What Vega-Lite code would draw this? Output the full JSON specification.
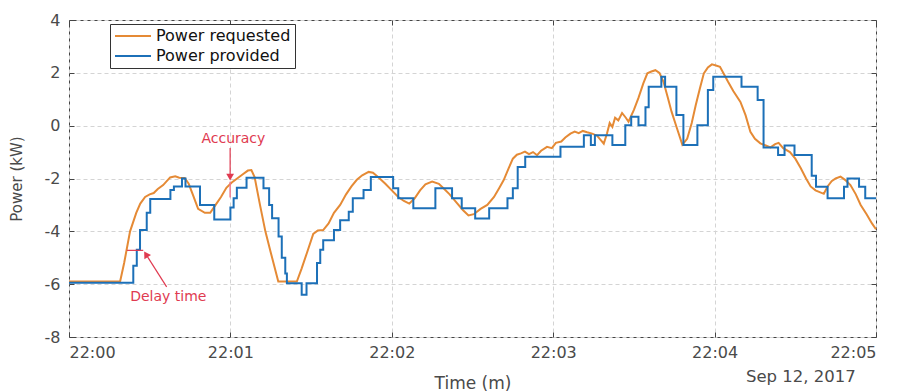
{
  "$schema": "https://vega.github.io/schema/vega-lite/v6.json",
  "width": 807,
  "height": 317,
  "autosize": {"type": "none"},
  "padding": {"left": 69, "top": 20, "right": 25, "bottom": 55},
  "background": "white",
  "config": {
    "font": "DejaVu Sans",
    "view": {"stroke": "#454545", "strokeWidth": 1},
    "axis": {
      "labelFont": "DejaVu Sans", "labelFontSize": 16, "labelColor": "#4a4a4a",
      "titleFont": "DejaVu Sans", "titleFontWeight": "normal", "titleColor": "#4a4a4a",
      "domain": false, "tickColor": "#454545", "gridColor": "#d4d4d4", "gridDash": [4, 3], "gridWidth": 1
    }
  },
  "datasets": {
    "requested": [
      {"t":0,"kw":-5.9},{"t":19,"kw":-5.9},{"t":20.5,"kw":-5.2},{"t":22.7,"kw":-4.0},{"t":25,"kw":-3.3},{"t":26.5,"kw":-2.95},{"t":28.3,"kw":-2.7},{"t":30,"kw":-2.6},{"t":31.5,"kw":-2.55},{"t":33,"kw":-2.4},{"t":35,"kw":-2.25},{"t":37.6,"kw":-1.96},{"t":39.5,"kw":-1.92},{"t":41,"kw":-1.97},{"t":43,"kw":-1.98},{"t":44.5,"kw":-2.2},{"t":46,"kw":-2.6},{"t":48,"kw":-3.15},{"t":50.5,"kw":-3.3},{"t":52.5,"kw":-3.3},{"t":54.5,"kw":-3.0},{"t":56.5,"kw":-2.7},{"t":58.5,"kw":-2.35},{"t":60.5,"kw":-2.15},{"t":62.5,"kw":-2.0},{"t":64.5,"kw":-1.85},{"t":66.5,"kw":-1.7},{"t":67.8,"kw":-1.68},{"t":69,"kw":-1.95},{"t":71,"kw":-3.0},{"t":73,"kw":-4.0},{"t":75,"kw":-4.8},{"t":77.8,"kw":-5.9},{"t":84.7,"kw":-5.9},{"t":86.5,"kw":-5.4},{"t":88.5,"kw":-4.8},{"t":90.8,"kw":-4.1},{"t":92.5,"kw":-3.97},{"t":94.5,"kw":-3.95},{"t":96.5,"kw":-3.7},{"t":98.5,"kw":-3.3},{"t":100.8,"kw":-3.0},{"t":103,"kw":-2.6},{"t":105,"kw":-2.3},{"t":107,"kw":-2.05},{"t":109,"kw":-1.88},{"t":111.4,"kw":-1.75},{"t":113,"kw":-1.78},{"t":115,"kw":-1.95},{"t":117.6,"kw":-2.2},{"t":120,"kw":-2.45},{"t":122.4,"kw":-2.7},{"t":124.5,"kw":-2.85},{"t":126.5,"kw":-2.95},{"t":128.5,"kw":-2.75},{"t":130.5,"kw":-2.45},{"t":132.5,"kw":-2.22},{"t":135,"kw":-2.12},{"t":137.5,"kw":-2.2},{"t":139.5,"kw":-2.4},{"t":141.5,"kw":-2.6},{"t":144,"kw":-2.9},{"t":146.5,"kw":-3.2},{"t":148.5,"kw":-3.4},{"t":150.5,"kw":-3.35},{"t":153,"kw":-3.15},{"t":155.5,"kw":-3.0},{"t":158,"kw":-2.7},{"t":160,"kw":-2.35},{"t":161.6,"kw":-2.06},{"t":163.5,"kw":-1.6},{"t":165,"kw":-1.25},{"t":166.5,"kw":-1.1},{"t":168,"kw":-1.05},{"t":169.5,"kw":-0.98},{"t":171,"kw":-1.08},{"t":172.5,"kw":-1.0},{"t":174,"kw":-1.12},{"t":175.5,"kw":-0.95},{"t":177.7,"kw":-0.8},{"t":179.5,"kw":-0.85},{"t":181,"kw":-0.65},{"t":183,"kw":-0.6},{"t":184.5,"kw":-0.45},{"t":186.4,"kw":-0.3},{"t":188,"kw":-0.22},{"t":189.5,"kw":-0.28},{"t":191,"kw":-0.2},{"t":192.6,"kw":-0.25},{"t":194.5,"kw":-0.3},{"t":196.3,"kw":-0.38},{"t":197.7,"kw":-0.55},{"t":198.8,"kw":-0.68},{"t":200,"kw":-0.3},{"t":201,"kw":0.1},{"t":202,"kw":-0.05},{"t":203,"kw":0.3},{"t":204.2,"kw":0.2},{"t":205.6,"kw":0.48},{"t":207,"kw":0.3},{"t":208,"kw":0.15},{"t":210,"kw":0.6},{"t":211.7,"kw":1.05},{"t":213.5,"kw":1.6},{"t":215,"kw":1.98},{"t":216.5,"kw":2.05},{"t":218,"kw":2.1},{"t":219.5,"kw":2.0},{"t":221,"kw":1.66},{"t":222.5,"kw":1.1},{"t":224,"kw":0.53},{"t":226,"kw":-0.1},{"t":228,"kw":-0.72},{"t":229.8,"kw":-0.5},{"t":231.5,"kw":0.1},{"t":233,"kw":0.78},{"t":234.5,"kw":1.4},{"t":236,"kw":1.98},{"t":237.5,"kw":2.2},{"t":239,"kw":2.32},{"t":240.5,"kw":2.28},{"t":242,"kw":2.23},{"t":243.5,"kw":1.95},{"t":245,"kw":1.66},{"t":247,"kw":1.3},{"t":249.6,"kw":0.9},{"t":251.5,"kw":0.4},{"t":253.3,"kw":-0.23},{"t":255,"kw":-0.5},{"t":257,"kw":-0.67},{"t":259,"kw":-0.75},{"t":260.8,"kw":-0.82},{"t":262.5,"kw":-0.7},{"t":263.8,"kw":-0.65},{"t":265.5,"kw":-0.85},{"t":268,"kw":-1.0},{"t":270,"kw":-1.25},{"t":272,"kw":-1.6},{"t":274,"kw":-2.0},{"t":275.7,"kw":-2.3},{"t":277.5,"kw":-2.45},{"t":280.6,"kw":-2.58},{"t":282,"kw":-2.3},{"t":283.5,"kw":-2.1},{"t":285,"kw":-2.0},{"t":286.8,"kw":-1.93},{"t":288.5,"kw":-2.05},{"t":290.5,"kw":-2.25},{"t":292.5,"kw":-2.6},{"t":294.3,"kw":-3.0},{"t":296.5,"kw":-3.35},{"t":298.5,"kw":-3.7},{"t":300,"kw":-3.92}
    ],
    "provided": [
      {"t":0,"kw":-5.95},{"t":23.9,"kw":-5.3},{"t":25.2,"kw":-4.7},{"t":26.4,"kw":-3.95},{"t":28.9,"kw":-3.3},{"t":30.2,"kw":-2.78},{"t":37.7,"kw":-2.44},{"t":39,"kw":-2.3},{"t":42,"kw":-2.0},{"t":43.3,"kw":-2.3},{"t":48.7,"kw":-3.0},{"t":54,"kw":-3.55},{"t":60,"kw":-3.1},{"t":61.2,"kw":-2.75},{"t":62.4,"kw":-2.35},{"t":66,"kw":-1.97},{"t":72.3,"kw":-2.37},{"t":74.4,"kw":-3.0},{"t":75.5,"kw":-3.5},{"t":77.9,"kw":-4.2},{"t":79.1,"kw":-5.0},{"t":80.4,"kw":-5.6},{"t":81,"kw":-5.97},{"t":86.5,"kw":-6.4},{"t":88.3,"kw":-5.97},{"t":92.2,"kw":-5.2},{"t":93.4,"kw":-4.7},{"t":94.5,"kw":-4.34},{"t":98.5,"kw":-3.95},{"t":100.8,"kw":-3.58},{"t":104,"kw":-3.26},{"t":105.5,"kw":-2.75},{"t":109.5,"kw":-2.44},{"t":112.2,"kw":-1.94},{"t":120.5,"kw":-2.37},{"t":122.4,"kw":-2.75},{"t":128,"kw":-3.13},{"t":136.2,"kw":-2.37},{"t":142.4,"kw":-2.75},{"t":146,"kw":-3.13},{"t":151,"kw":-3.51},{"t":156.2,"kw":-3.13},{"t":163,"kw":-2.75},{"t":165,"kw":-2.37},{"t":166.8,"kw":-1.56},{"t":169.6,"kw":-1.18},{"t":182.7,"kw":-0.8},{"t":191.4,"kw":-0.36},{"t":194,"kw":-0.73},{"t":195.5,"kw":-0.36},{"t":202,"kw":-0.73},{"t":206.8,"kw":0.02},{"t":209,"kw":0.34},{"t":211.7,"kw":0.02},{"t":214.3,"kw":0.7},{"t":215.5,"kw":1.47},{"t":220.2,"kw":1.85},{"t":221.6,"kw":1.47},{"t":225.8,"kw":0.4},{"t":228.4,"kw":-0.73},{"t":233.6,"kw":0.02},{"t":237.5,"kw":1.35},{"t":239.5,"kw":1.85},{"t":250,"kw":1.47},{"t":256,"kw":0.97},{"t":258.2,"kw":-0.83},{"t":263.6,"kw":-1.11},{"t":266,"kw":-0.75},{"t":269.7,"kw":-1.11},{"t":276.1,"kw":-1.9},{"t":277.7,"kw":-2.31},{"t":282,"kw":-2.75},{"t":288.1,"kw":-2.31},{"t":289.4,"kw":-2.0},{"t":293.7,"kw":-2.31},{"t":296,"kw":-2.75},{"t":300,"kw":-2.75}
    ],
    "arrows": [
      {"t":59.9,"v":-0.85,"t2":59.9,"v2":-1.9},
      {"t":36.3,"v":-6.1,"t2":28.8,"v2":-4.9},
      {"t":21.5,"v":-4.72,"t2":27.6,"v2":-4.72}
    ],
    "gap": [{"t":59.9,"v":-2.12,"t2":59.9,"v2":-2.72}],
    "headAcc": [{"t":59.9,"v":-1.95}],
    "headDelay": [{"t":28.6,"v":-4.87}],
    "notes": [
      {"t":61.1,"v":-0.64,"text":"Accuracy"},
      {"t":36.9,"v":-6.63,"text":"Delay time"}
    ],
    "date": [{"t":292.5,"v":-9.71,"text":"Sep 12, 2017"}]
  },
  "layer": [
    {
      "data": {"name": "requested"},
      "mark": {"type": "line", "strokeWidth": 2, "interpolate": "linear"},
      "encoding": {
        "x": {"field": "t", "type": "quantitative", "scale": {"domain": [0, 300], "nice": false, "zero": false},
          "axis": {"orient": "bottom", "values": [0, 60, 120, 180, 240, 300], "labelExpr": "'22:0' + (datum.value/60)", "title": "Time (m)", "titleFontSize": 17, "titlePadding": 15, "tickSize": -5, "labelPadding": 12, "grid": true}},
        "y": {"field": "kw", "type": "quantitative", "scale": {"domain": [-8, 4], "nice": false, "zero": false},
          "axis": {"orient": "left", "values": [-8, -6, -4, -2, 0, 2, 4], "labelExpr": "datum.value + ''", "title": "Power (kW)", "titleFontSize": 15, "titlePadding": 20, "tickSize": -5, "labelPadding": 14, "grid": true}},
        "color": {"datum": "Power requested", "type": "nominal",
          "scale": {"domain": ["Power requested", "Power provided"], "range": ["#e58a35", "#1c70b8"]},
          "legend": {"title": null, "orient": "none", "legendX": 41, "legendY": 4, "direction": "vertical", "symbolType": "stroke", "symbolSize": 1296, "symbolStrokeWidth": 2, "clipHeight": 16, "labelFont": "DejaVu Sans", "labelFontSize": 16, "labelColor": "#111111", "strokeColor": "#333333", "fillColor": "white", "padding": 4, "rowPadding": 4, "labelOffset": 4}}
      }
    },
    {
      "data": {"name": "provided"},
      "mark": {"type": "line", "strokeWidth": 2, "interpolate": "step-after"},
      "encoding": {
        "x": {"field": "t", "type": "quantitative", "axis": null},
        "y": {"field": "kw", "type": "quantitative", "axis": null},
        "color": {"datum": "Power provided", "type": "nominal"}
      }
    },
    {
      "data": {"name": "arrows"},
      "mark": {"type": "rule", "color": "#e03a50", "strokeWidth": 1.2},
      "encoding": {
        "x": {"field": "t", "type": "quantitative", "axis": null},
        "x2": {"field": "t2"},
        "y": {"field": "v", "type": "quantitative", "axis": null},
        "y2": {"field": "v2"}
      }
    },
    {
      "data": {"name": "gap"},
      "mark": {"type": "rule", "color": "#f07a8c", "strokeWidth": 1.5},
      "encoding": {
        "x": {"field": "t", "type": "quantitative", "axis": null},
        "x2": {"field": "t2"},
        "y": {"field": "v", "type": "quantitative", "axis": null},
        "y2": {"field": "v2"}
      }
    },
    {
      "data": {"name": "headAcc"},
      "mark": {"type": "point", "shape": "triangle-down", "filled": true, "size": 60, "color": "#e03a50", "opacity": 1},
      "encoding": {
        "x": {"field": "t", "type": "quantitative", "axis": null},
        "y": {"field": "v", "type": "quantitative", "axis": null}
      }
    },
    {
      "data": {"name": "headDelay"},
      "mark": {"type": "point", "shape": "triangle-up", "filled": true, "size": 60, "angle": -32, "color": "#e03a50", "opacity": 1},
      "encoding": {
        "x": {"field": "t", "type": "quantitative", "axis": null},
        "y": {"field": "v", "type": "quantitative", "axis": null}
      }
    },
    {
      "data": {"name": "notes"},
      "mark": {"type": "text", "color": "#e03a50", "fontSize": 14, "font": "DejaVu Sans", "align": "center", "baseline": "alphabetic"},
      "encoding": {
        "x": {"field": "t", "type": "quantitative", "axis": null},
        "y": {"field": "v", "type": "quantitative", "axis": null},
        "text": {"field": "text"}
      }
    },
    {
      "data": {"name": "date"},
      "mark": {"type": "text", "color": "#4a4a4a", "fontSize": 16.5, "font": "DejaVu Sans", "align": "right", "baseline": "alphabetic"},
      "encoding": {
        "x": {"field": "t", "type": "quantitative", "axis": {"orient": "top", "values": [0, 60, 120, 180, 240, 300], "labels": false, "title": null, "grid": false, "tickSize": -5}},
        "y": {"field": "v", "type": "quantitative", "axis": {"orient": "right", "values": [-8, -6, -4, -2, 0, 2, 4], "labels": false, "title": null, "grid": false, "tickSize": -5}},
        "text": {"field": "text"}
      }
    }
  ],
  "resolve": {"axis": {"x": "independent", "y": "independent"}}
}
